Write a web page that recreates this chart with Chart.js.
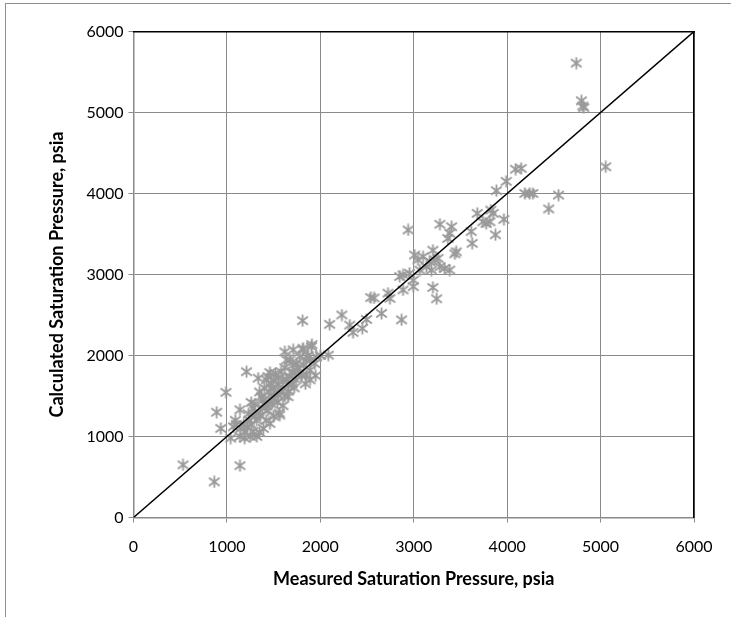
<!DOCTYPE html>
<html>
<head>
<meta charset="utf-8">
<script src="https://cdn.jsdelivr.net/npm/chart.js@4.4.1/dist/chart.umd.min.js"></script>
<style>
  html, body { margin: 0; padding: 0; background: #fff; overflow: hidden; }
  #wrap { position: relative; width: 731px; height: 617px; }
  #frame { position: absolute; left: 5px; top: 3px; width: 800px; height: 700px; border: 1.5px solid #8e8e8e; box-sizing: border-box; }
  canvas { position: absolute; left: 0; top: 0; }
</style>
</head>
<body>
<div id="wrap">
  <div id="frame"></div>
  <canvas id="satChart" width="731" height="617"></canvas>
</div>
<script>
// Áp suất bão hòa đo được (trục X) và tính toán (trục Y), psia
var measuredPsia = [
  530, 865, 1140, 890, 935, 990, 1040, 1070, 1090, 1140,
  1140, 1190, 1195, 1280, 1320, 1390, 1460, 1565, 1560, 1655,
  1390, 1280, 1210, 1335, 1440, 1620, 1710, 1815, 1905, 1640,
  1745, 1850, 1960, 1890, 1725, 1550, 1480, 1370, 1550, 1655,
  1405, 1910, 1815, 2085, 1780, 1675, 1890, 1710, 1425, 1550,
  1675, 1780, 1850, 1890, 1460, 1150, 1180, 1220, 1240, 1260,
  1300, 1320, 1340, 1360, 1380, 1420, 1440, 1460, 1480, 1500,
  1520, 1540, 1580, 1600, 1620, 1640, 1660, 1700, 1720, 1740,
  1760, 1800, 1820, 1840, 1870, 1230, 1260, 1300, 1350, 1400,
  1450, 1470, 1500, 1520, 1580, 1600, 1620, 1700, 1950, 1940,
  2000, 1100, 1250, 1350, 1420, 1500, 1600,
  1810, 2100, 2230, 2315, 2350, 2450, 2495, 2655, 2540, 2575,
  2725, 2745, 2870, 2885, 2850, 2885, 2995, 2995, 3205, 3245,
  2955, 3010, 3045, 3065, 3100, 3135, 3170, 3190, 3225, 3260,
  3205, 3280, 3330, 3385, 3440, 3455, 2940, 3280, 3405, 3385,
  3365, 3615, 3625, 3680, 3825, 3850, 3740, 3775, 3815, 3965,
  3875, 3885, 3990, 4090, 4150, 4190, 4240, 4275, 4550, 4445,
  4740, 4795, 4810, 4820, 5055
];
var calculatedPsia = [
  650, 440, 640, 1300, 1100, 1545, 980, 1120, 1200, 1330,
  1000, 980, 1060, 1060, 1000, 1100, 1160, 1265, 1290, 1490,
  1450, 1350, 1800, 1720, 1740, 2045, 2070, 2070, 2110, 1945,
  1905, 1945, 1985, 1820, 1780, 1720, 1595, 1490, 1510, 1635,
  1410, 2135, 2090, 2005, 1985, 1945, 1945, 1885, 1700, 1635,
  1740, 1780, 1760, 1700, 1790, 1100, 1150, 1120, 1200, 1150,
  1250, 1200, 1300, 1260, 1350, 1380, 1320, 1450, 1400, 1480,
  1550, 1420, 1560, 1600, 1500, 1700, 1560, 1650, 1600, 1700,
  1850, 1750, 1880, 1650, 2000, 1280, 1420, 1400, 1550, 1600,
  1550, 1650, 1700, 1780, 1800, 1700, 1850, 1800, 1750, 1900,
  2000, 1150, 1000, 1050, 1200, 1250, 1380,
  2430, 2385, 2500, 2375, 2285, 2335, 2445, 2520, 2715, 2710,
  2770, 2705, 2440, 2810, 2975, 2995, 2930, 2850, 2840, 2700,
  3015, 3240, 3180, 3055, 3220, 3095, 3160, 3055, 3180, 3200,
  3300, 3095, 3075, 3055, 3255, 3280, 3550, 3620, 3590, 3510,
  3445, 3530, 3385, 3755, 3795, 3755, 3650, 3630, 3650, 3680,
  3490, 4035, 4150, 4300, 4310, 4000, 4000, 4000, 3980, 3810,
  5610, 5145, 5080, 5060, 4330
];

// Đường chéo y = x
var diagonalX = [0, 6000];
var diagonalY = [0, 6000];

// Vạch chia trục
var axisTicks = [0, 1000, 2000, 3000, 4000, 5000, 6000];

var xTitle = 'Measured Saturation Pressure, psia';
var yTitle = 'Calculated Saturation Pressure, psia';

// Ký hiệu dấu sao kiểu Excel
function makeStar() {
    var c = document.createElement('canvas');
    c.width = 13;
    c.height = 13;
    var g = c.getContext('2d');
    g.strokeStyle = '#999999';
    g.lineWidth = 1.8;
    g.beginPath();
    g.moveTo(6.5, 0.5); g.lineTo(6.5, 12.5);
    g.moveTo(1.2, 2.5); g.lineTo(11.8, 10.5);
    g.moveTo(11.8, 2.5); g.lineTo(1.2, 10.5);
    g.stroke();
    return c;
}

var points = measuredPsia.map(function(x, i) {
    return { x: x, y: calculatedPsia[i] };
});
var diagonal = diagonalX.map(function(x, i) {
    return { x: x, y: diagonalY[i] };
});

var tickFont = { family: 'Lato', size: 16 };
var titleFont = { family: 'Lato', size: 18, weight: 'bold' };
var gridGray = '#8a8a8a';
var stepSize = axisTicks[1] - axisTicks[0];

// Hiển thị số không có dấu phân cách hàng nghìn
function plainNumber(value) {
    return String(value);
}

var ctx = document.getElementById('satChart').getContext('2d');
new Chart(ctx, {
    type: 'scatter',
    data: {
        datasets: [
            {
                label: 'Diagonal',
                data: diagonal,
                showLine: true,
                borderColor: '#000000',
                borderWidth: 1.5,
                pointRadius: 0,
                order: 0
            },
            {
                label: 'Data',
                data: points,
                pointStyle: makeStar(),
                order: 1
            }
        ]
    },
    options: {
        responsive: false,
        animation: false,
        devicePixelRatio: 1,
        layout: {
            padding: { left: 0, right: 37, top: 31.5, bottom: 0 }
        },
        plugins: {
            legend: { display: false },
            tooltip: { enabled: false }
        },
        scales: {
            x: {
                type: 'linear',
                position: 'bottom',
                min: axisTicks[0],
                max: axisTicks[axisTicks.length - 1],
                ticks: { stepSize: stepSize, color: '#000', font: tickFont, padding: 15, maxRotation: 0, callback: plainNumber },
                grid: { color: gridGray, lineWidth: 1, tickLength: 5 },
                border: { color: gridGray, width: 1.5 },
                title: { display: true, text: xTitle, color: '#000', font: titleFont, padding: { top: 0, bottom: 27 } },
                afterFit: function(scale) { scale.height = 99.5; }
            },
            y: {
                type: 'linear',
                position: 'left',
                min: axisTicks[0],
                max: axisTicks[axisTicks.length - 1],
                ticks: { stepSize: stepSize, color: '#000', font: tickFont, padding: 5, callback: plainNumber },
                grid: { color: gridGray, lineWidth: 1, tickLength: 5 },
                border: { color: gridGray, width: 1.5 },
                title: { display: true, text: yTitle, color: '#000', font: titleFont, padding: { top: 46, bottom: 0 } },
                afterFit: function(scale) { scale.width = 133.5; }
            },
            x2: {
                type: 'linear',
                position: 'top',
                min: axisTicks[0],
                max: axisTicks[axisTicks.length - 1],
                ticks: { display: false },
                grid: { display: false, drawTicks: false },
                border: { color: '#000', width: 1.5 },
                afterFit: function(scale) { scale.height = 0; }
            },
            y2: {
                type: 'linear',
                position: 'right',
                min: axisTicks[0],
                max: axisTicks[axisTicks.length - 1],
                ticks: { display: false },
                grid: { display: false, drawTicks: false },
                border: { color: '#000', width: 1.5 },
                afterFit: function(scale) { scale.width = 0; }
            }
        }
    }
});
</script>
</body>
</html>
